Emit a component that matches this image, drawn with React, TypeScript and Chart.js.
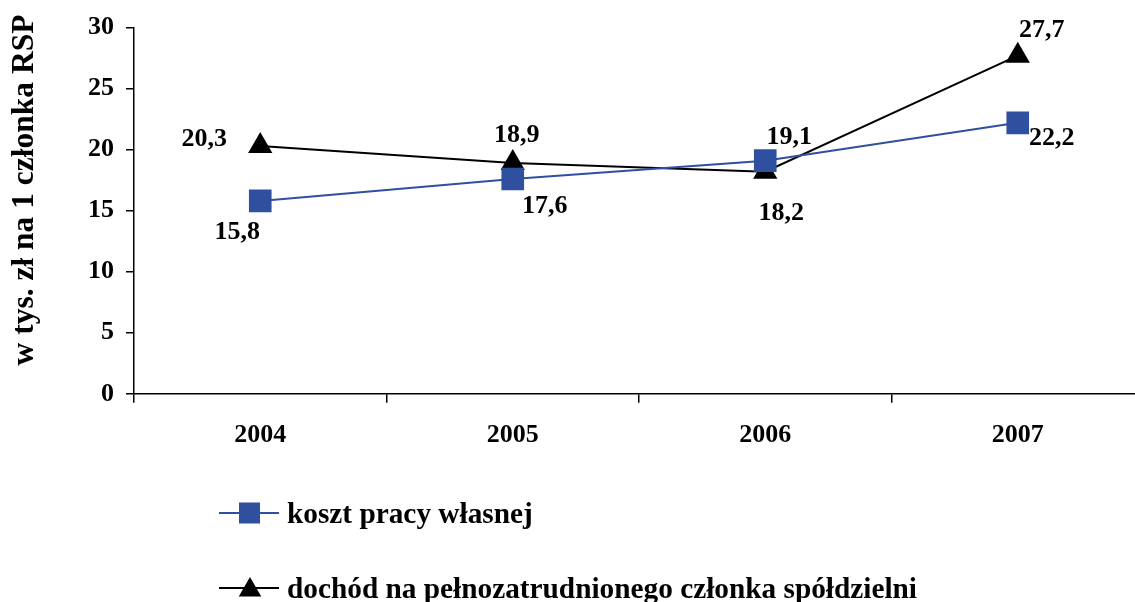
import React, { useEffect, useRef } from 'react';
import { Chart, registerables } from 'chart.js';

Chart.register(...registerables);

const categories = ['2004', '2005', '2006', '2007'];
const kosztPracy = [15.8, 17.6, 19.1, 22.2];
const dochod = [20.3, 18.9, 18.2, 27.7];
const yMin = 0;
const yMax = 30;
const yStep = 5;
const seriesNames = ['koszt pracy własnej', 'dochód na pełnozatrudnionego członka spółdzielni'];
const yTitle = 'w tys. zł na 1 członka RSP';

const BLUE = '#2F4F9F';
const FONT = '"Liberation Serif", "Times New Roman", serif';

// label placement (dx, dy from the point to the text centre)
const labelOffsets = [
  [[-23, 29], [32, 25], [24, -25], [34, 14]],
  [[-56, -9], [4, -30], [16, 40], [24, -27]],
];

const fmt = (v: number) => v.toFixed(1).replace('.', ',');

function drawMarker(ctx: CanvasRenderingContext2D, style: string, x: number, y: number, size: number, color: string) {
  ctx.save();
  ctx.fillStyle = color;
  ctx.beginPath();
  if (style === 'rect') {
    ctx.rect(x - size / 2, y - size / 2, size, size);
  } else {
    const r = size;
    ctx.moveTo(x, y - r);
    ctx.lineTo(x + r * Math.sin((2 * Math.PI) / 3), y - r * Math.cos((2 * Math.PI) / 3));
    ctx.lineTo(x + r * Math.sin((4 * Math.PI) / 3), y - r * Math.cos((4 * Math.PI) / 3));
    ctx.closePath();
  }
  ctx.fill();
  ctx.restore();
}

const dataLabelsPlugin = {
  id: 'dataLabels',
  afterDatasetsDraw(chart: any) {
    const ctx = chart.ctx as CanvasRenderingContext2D;
    ctx.save();
    ctx.font = `bold 26px ${FONT}`;
    ctx.fillStyle = '#000';
    ctx.textAlign = 'center';
    ctx.textBaseline = 'alphabetic';
    chart.data.datasets.forEach((ds: any, i: number) => {
      const meta = chart.getDatasetMeta(i);
      meta.data.forEach((pt: any, j: number) => {
        const [dx, dy] = labelOffsets[i][j];
        ctx.fillText(fmt(ds.data[j]), pt.x + dx, pt.y + dy + 8.6);
      });
    });
    ctx.restore();
  },
};

const axisTitlePlugin = {
  id: 'axisTitle',
  afterDraw(chart: any) {
    const ctx = chart.ctx as CanvasRenderingContext2D;
    ctx.save();
    ctx.translate(25, 190);
    ctx.rotate(-Math.PI / 2);
    ctx.font = `bold 31.5px ${FONT}`;
    ctx.fillStyle = '#000';
    ctx.textAlign = 'center';
    ctx.textBaseline = 'middle';
    ctx.fillText(yTitle, 0, 0);
    ctx.restore();
  },
};

const legendPlugin = {
  id: 'customLegend',
  afterDraw(chart: any) {
    const ctx = chart.ctx as CanvasRenderingContext2D;
    const rows = [513, 588];
    ctx.save();
    chart.data.datasets.forEach((ds: any, i: number) => {
      const y = rows[i];
      ctx.strokeStyle = ds.borderColor;
      ctx.lineWidth = 2;
      ctx.beginPath();
      ctx.moveTo(219, y);
      ctx.lineTo(279, y);
      ctx.stroke();
      if (ds.pointStyle === 'rect') drawMarker(ctx, 'rect', 249.5, y, 21, ds.backgroundColor);
      else drawMarker(ctx, 'triangle', 250, y + 2, 13, ds.backgroundColor);
      ctx.fillStyle = '#000';
      ctx.font = `bold 29.3px ${FONT}`;
      ctx.textAlign = 'left';
      ctx.textBaseline = 'alphabetic';
      ctx.fillText(ds.label, 287, y + 10);
    });
    ctx.restore();
  },
};

export default function App() {
  const ref = useRef<HTMLCanvasElement | null>(null);
  useEffect(() => {
    if (!ref.current) return;
    Chart.defaults.font.family = FONT;
    const chart = new Chart(ref.current, {
      type: 'line',
      data: {
        labels: categories,
        datasets: [
          {
            label: seriesNames[0],
            data: kosztPracy,
            borderColor: BLUE,
            backgroundColor: BLUE,
            borderWidth: 2,
            pointStyle: 'rect',
            pointRadius: 16,
            pointBorderWidth: 0,
            pointHoverRadius: 16,
            tension: 0,
          },
          {
            label: seriesNames[1],
            data: dochod,
            borderColor: '#000',
            backgroundColor: '#000',
            borderWidth: 2,
            pointStyle: 'triangle',
            pointRadius: 14,
            pointBorderWidth: 0,
            pointHoverRadius: 14,
            tension: 0,
          },
        ],
      },
      options: {
        animation: false,
        responsive: false,
        maintainAspectRatio: false,
        devicePixelRatio: 1,
        layout: { padding: { top: 16, left: 76, right: 7, bottom: 134 } },
        plugins: { legend: { display: false }, tooltip: { enabled: false } },
        scales: {
          x: {
            type: 'category',
            offset: true,
            grid: { display: true, offset: true, drawOnChartArea: false, drawTicks: true, tickLength: 9, color: '#000', lineWidth: 1.5 },
            border: { display: true, color: '#000', width: 1.5 },
            ticks: { color: '#000', font: { family: FONT, size: 26, weight: 'bold' }, padding: 17, maxRotation: 0 },
          },
          y: {
            min: yMin,
            max: yMax,
            grid: { display: true, drawOnChartArea: false, drawTicks: true, tickLength: 8, color: '#000', lineWidth: 1.5 },
            border: { display: true, color: '#000', width: 1.5 },
            ticks: { stepSize: yStep, color: '#000', font: { family: FONT, size: 26, weight: 'bold' }, padding: 12 },
            title: { display: false },
          },
        },
      },
      plugins: [dataLabelsPlugin, axisTitlePlugin, legendPlugin],
    });
    return () => chart.destroy();
  }, []);
  return (
    <div style={{ position: 'fixed', left: 0, top: 0, right: 0, bottom: 0, overflow: 'hidden', background: '#fff' }}>
      <canvas ref={ref} width={1160} height={602} style={{ position: 'absolute', left: 0, top: 0, width: 1160, height: 602 }} />
    </div>
  );
}
